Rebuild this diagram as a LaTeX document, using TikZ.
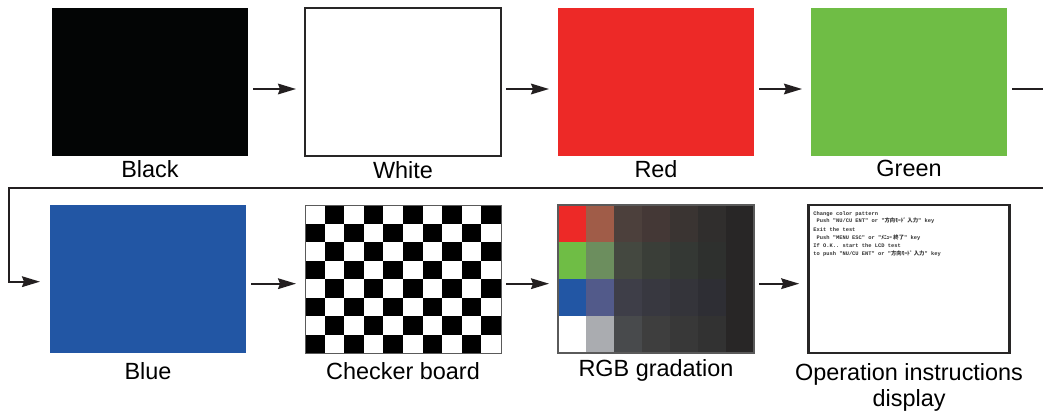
\documentclass[tikz,border=0pt]{standalone}
\usepackage{fontspec}
\setmainfont{Liberation Sans}
\setmonofont{Liberation Mono}
\newfontfamily\jpfont{Noto Sans CJK JP}
\usepackage{tikz}
\usetikzlibrary{arrows.meta,positioning,calc}
\definecolor{ScreenBlack}{RGB}{3,5,5}
\definecolor{ScreenRed}{RGB}{237,41,39}
\definecolor{ScreenGreen}{RGB}{111,189,69}
\definecolor{ScreenBlue}{RGB}{34,86,164}
\definecolor{ScreenFrame}{RGB}{40,38,38}
\definecolor{ScreenRule}{RGB}{90,90,90}
\definecolor{FlowLine}{RGB}{35,31,32}

\begin{document}
\begin{tikzpicture}[
    x=0.03cm,y=-0.03cm,
    node distance=1.71cm,
    screen/.style={minimum width=5.88cm,minimum height=4.44cm,inner sep=0pt,outer sep=0pt},
    caption/.style={font=\fontsize{20}{21.5}\selectfont,inner sep=0pt,anchor=north,align=center},
    flow/.style={-{Stealth[length=0.54cm,width=0.32cm,inset=0.06cm]},line width=1.7pt,draw=FlowLine,
      shorten <=0.15cm,shorten >=0.27cm},
    optext/.style={font=\ttfamily\bfseries\fontsize{4.6}{6.4}\selectfont,text=black!80,inner sep=0pt,align=left,anchor=north west}
  ]
    \useasboundingbox (0,0) rectangle (1043,412);
    % first row
    \node[screen,fill=ScreenBlack] (black) at (150,82) {};
    \node[screen,draw=ScreenFrame,line width=1.5pt,right=of black] (white) {};
    \node[screen,fill=ScreenRed,right=of white] (red) {};
    \node[screen,fill=ScreenGreen,right=of red] (green) {};
    % second row
    \node[screen,fill=ScreenBlue,below=1.47cm of black,xshift=-0.06cm] (blue) {};
    \node[screen,below=1.47cm of white] (checker) {};
    \node[screen,below=1.47cm of red] (rgb) {};
    \node[screen,minimum width=6.05cm,draw=ScreenFrame,line width=2.4pt,below=1.47cm of green] (info) {};
    % checker board
    \foreach \i in {0,...,9}
      \foreach \j in {0,...,7}
        {\ifodd\numexpr\i+\j\relax
           \fill[black] ($(checker.north west)+(\i*19.6,\j*18.5)$) rectangle +(19.6,18.5);
         \fi}
    \draw[ScreenRule,line width=0.8pt] (checker.north west) rectangle (checker.south east);
    % rgb gradation
    \foreach \row/\vals in {
        0/{{237,41,39},{160,92,72},{76,64,60},{68,56,54},{58,52,50},{48,46,45}},
        1/{{111,189,69},{108,142,94},{68,72,64},{58,62,56},{52,56,52},{46,48,46}},
        2/{{34,86,164},{82,90,138},{62,62,72},{56,56,64},{52,52,58},{46,46,52}},
        3/{{255,255,255},{170,172,176},{72,74,76},{62,62,62},{56,56,56},{50,50,50}}}
      \foreach \v [count=\col from 0] in \vals
        {\definecolor{cellc}{RGB}{\v}
         \fill[cellc] ($(rgb.north west)+(\col*28,\row*37)$) rectangle +(28,37);}
    \fill[ScreenFrame] ($(rgb.north west)+(168,0)$) rectangle (rgb.south east);
    \draw[ScreenRule,line width=1.6pt] (rgb.north west) rectangle (rgb.south east);
    % instructions screen
    \node[optext] (infotext) at ($(info.north west)+(5,6)$) {%
      Change color pattern\\
      ~Push "NU/CU ENT" or "{\jpfont 方向ﾓｰﾄﾞ 入力}" key\\[1.2pt]
      Exit the test\\
      ~Push "MENU ESC" or "{\jpfont ﾒﾆｭｰ 終了}" key\\[1.2pt]
      If O.K.. start the LCD test\\
      to push "NU/CU ENT" or "{\jpfont 方向ﾓｰﾄﾞ 入力}" key};
    % captions
    \node[caption,below=0.12cm of black] (blackcap) {Black};
    \node[caption,below=0.15cm of white] (whitecap) {White};
    \node[caption,below=0.12cm of red] (redcap) {Red};
    \node[caption,below=0.12cm of green] (greencap) {Green};
    \node[caption,below=0.28cm of blue] (bluecap) {Blue};
    \node[caption,below=0.28cm of checker] (checkercap) {Checker board};
    \node[caption,below=0.2cm of rgb] (rgbcap) {RGB gradation};
    \node[caption,below=0.32cm of info] (infocap) {Operation instructions\\display};
    % connectors
    \draw[flow] ([yshift=-0.21cm]black.east) -- ([yshift=-0.21cm]white.west);
    \draw[flow] ([yshift=-0.21cm]white.east) -- ([yshift=-0.21cm]red.west);
    \draw[flow] ([yshift=-0.21cm]red.east) -- ([yshift=-0.21cm]green.west);
    \coordinate (wrap) at (9,188);
    \draw[flow,shorten >=0.3cm] ([yshift=-0.21cm]green.east) -- ++(45,0) |- (wrap) |- ([yshift=-0.08cm]blue.west);
    \draw[flow] ([yshift=-0.14cm]blue.east) -- ([yshift=-0.14cm]checker.west);
    \draw[flow] ([yshift=-0.14cm]checker.east) -- ([yshift=-0.14cm]rgb.west);
    \draw[flow] ([yshift=-0.14cm]rgb.east) -- ([yshift=-0.14cm]info.west);
\end{tikzpicture}
\end{document}
